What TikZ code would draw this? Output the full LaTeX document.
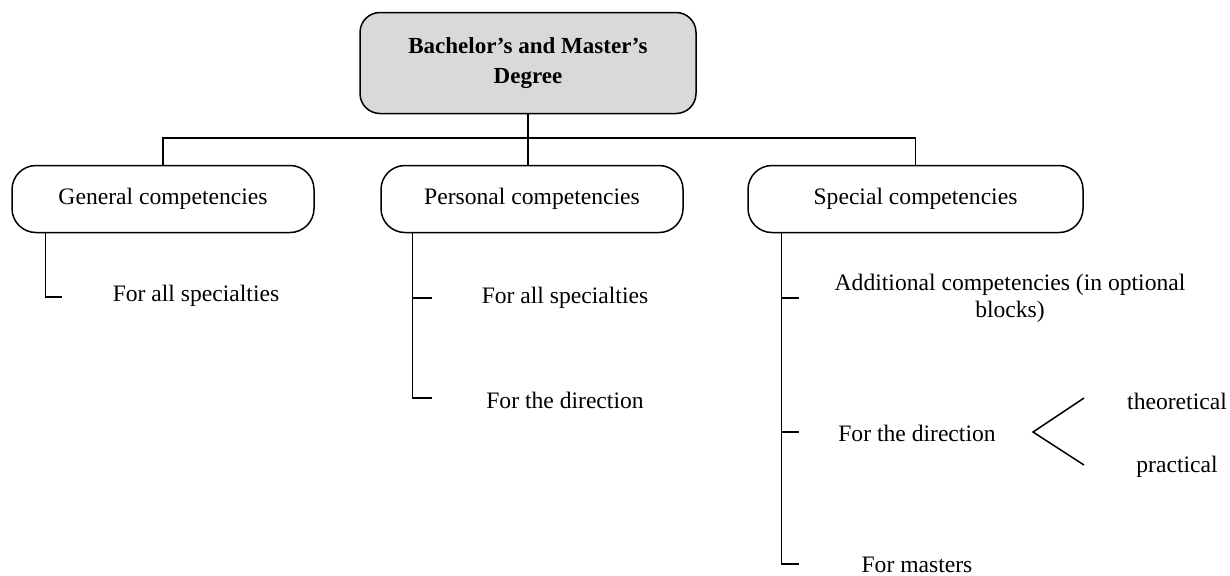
\documentclass[tikz,border=0pt]{standalone}
\usepackage{fontspec}
\setmainfont{Liberation Serif}

\begin{document}
\begin{tikzpicture}[x=0.5pt, y=-0.5pt, line width=0.75pt,
    every node/.style={font=\fontsize{11.8}{13.5}\selectfont},
    degbox/.style={draw, fill=black!15, rounded corners=10pt,
      minimum width=168pt, minimum height=50.5pt, align=center,
      font=\bfseries\fontsize{11.5}{15}\selectfont},
    compbox/.style={draw, fill=white, rounded corners=12pt,
      minimum height=33.5pt},
    item/.style={align=center, inner sep=1pt}]
  \useasboundingbox (0,0) rectangle (1230,575);

  % top of the tree
  \node[degbox] (deg) at (528,63) {Bachelor’s and Master’s\\Degree};
  \node[compbox, minimum width=151pt] (gen) at (163,199) {General competencies};
  \node[compbox, minimum width=151pt] (per) at (532,199) {Personal competencies};
  \node[compbox, minimum width=167.5pt] (spe) at (915.5,199) {Special competencies};

  \coordinate (bus) at (528,138);
  \draw (deg.south) -- (bus);
  \draw (gen.north) |- (bus) -| (spe.north);
  \draw (bus) -- (bus |- per.north);

  % items under each group
  \node[item] (gen1) at (196,296) {For all specialties};
  \node[item] (per1) at (565,298) {For all specialties};
  \node[item] (per2) at (565,400) {For the direction};
  \node[item] (spe1) at (1010,298) {Additional competencies (in optional\\blocks)};
  \node[item] (spe2) at (917,433) {For the direction};
  \node[item, anchor=base] (spe3) at (917,572) {For masters};
  \node[item] (theo) at (1177,401) {theoretical};
  \node[item] (prac) at (1177,467) {practical};

  \coordinate (g1) at (62,297);
  \draw ([xshift=17pt]gen.south west) |- (g1);

  \coordinate (p1) at (432,298);
  \coordinate (p2) at (432,398);
  \draw ([xshift=16pt]per.south west) |- (p2);
  \draw (p1) -- +(-19,0);

  \coordinate (s1) at (799,298);
  \coordinate (s2) at (799,432);
  \coordinate (s3) at (799,564);
  \draw ([xshift=17pt]spe.south west) |- (s3);
  \draw (s1) -- +(-17,0);
  \draw (s2) -- +(-17,0);

  % fork after the direction
  \coordinate (fk) at (1033,432);
  \coordinate (fa) at (1084,398);
  \coordinate (fb) at (1084,465);
  \draw (fa) -- (fk) -- (fb);
\end{tikzpicture}
\end{document}
